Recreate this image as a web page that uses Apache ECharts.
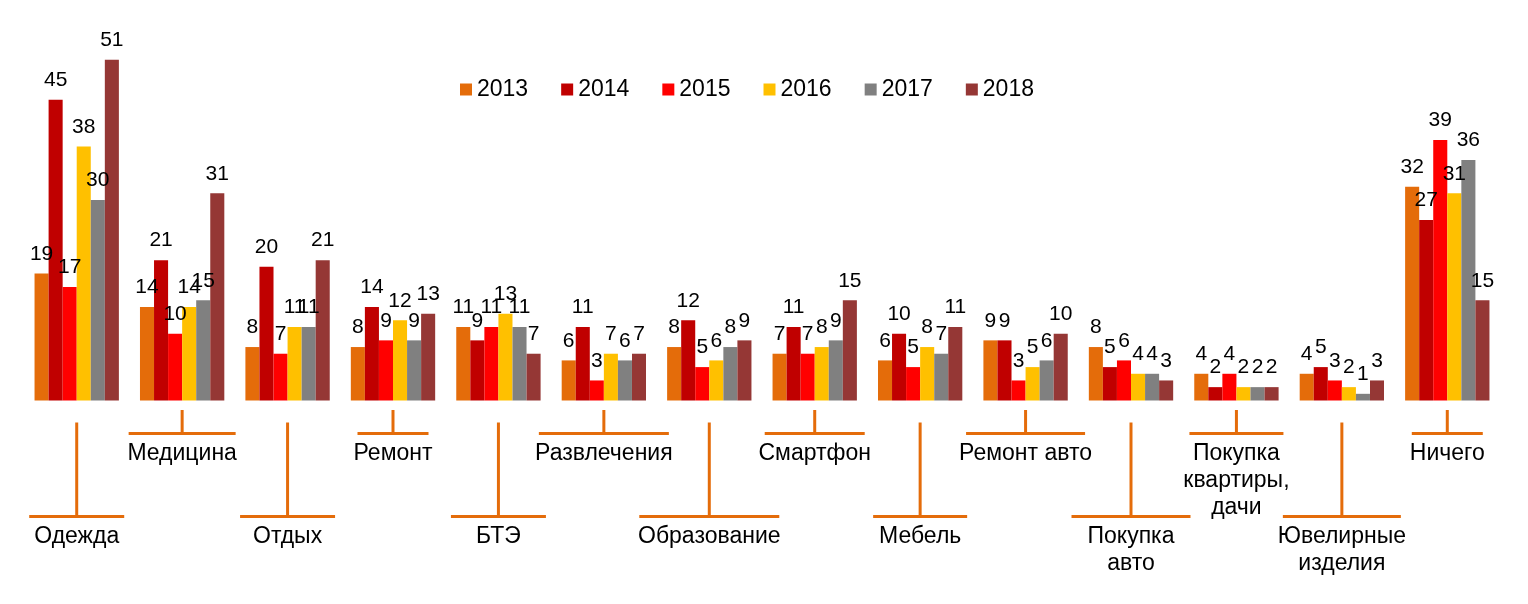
<!DOCTYPE html>
<html>
<head>
<meta charset="utf-8">
<script src="https://cdn.jsdelivr.net/npm/echarts@6/dist/echarts.min.js"></script>
<style>
  html, body { margin: 0; padding: 0; background: #fff; }
  #chart { width: 1528px; height: 604px; }
</style>
</head>
<body>
<div id="chart"></div>
<script>
// категории и значения по годам
const categories = [
  'Одежда', 'Медицина', 'Отдых', 'Ремонт', 'БТЭ', 'Развлечения', 'Образование',
  'Смартфон', 'Мебель', 'Ремонт авто', 'Покупка\nавто', 'Покупка\nквартиры,\nдачи',
  'Ювелирные\nизделия', 'Ничего'
];
const years = ['2013', '2014', '2015', '2016', '2017', '2018'];
const v2013 = [19, 14, 8, 8, 11, 6, 8, 7, 6, 9, 8, 4, 4, 32];
const v2014 = [45, 21, 20, 14, 9, 11, 12, 11, 10, 9, 5, 2, 5, 27];
const v2015 = [17, 10, 7, 9, 11, 3, 5, 7, 5, 3, 6, 4, 3, 39];
const v2016 = [38, 14, 11, 12, 13, 7, 6, 8, 8, 5, 4, 2, 2, 31];
const v2017 = [30, 15, 11, 9, 11, 6, 8, 9, 7, 6, 4, 2, 1, 36];
const v2018 = [51, 31, 21, 13, 7, 7, 9, 15, 11, 10, 3, 2, 3, 15];

const yearValues = [v2013, v2014, v2015, v2016, v2017, v2018];
const colors = ['#E46C0A', '#C00000', '#FF0000', '#FFC000', '#808080', '#953735'];
// ширина горизонтальной черты под подписью
const calloutWidth = [95, 107, 95, 71, 95, 130, 140, 100, 94, 119, 119, 94, 118, 71];
const lineColor = '#E46C0A';
const font = 'Arial, "Liberation Sans", sans-serif';

const chart = echarts.init(document.getElementById('chart'), null, { renderer: 'canvas' });

const barSeries = years.map((y, i) => ({
  name: y,
  type: 'bar',
  data: yearValues[i],
  barGap: '0%',
  barCategoryGap: '20%',
  itemStyle: { color: colors[i] },
  label: {
    show: true,
    position: 'top',
    distance: 9,
    color: '#000',
    fontSize: 21,
    fontFamily: font
  }
}));

// выноски с подписями категорий (чётные — ниже, нечётные — выше)
const calloutSeries = {
  type: 'custom',
  clip: false,
  silent: true,
  data: categories.map((c, i) => [i]),
  renderItem: function (params, api) {
    const idx = api.value(0);
    const p = api.coord([idx, 0]);
    const x = p[0], y0 = p[1];
    const low = idx % 2 === 0;
    const vTop = y0 + (low ? 22 : 9.5);
    const hY = y0 + (low ? 116 : 33);
    const textTop = y0 + (low ? 123 : 40);
    const w = calloutWidth[idx];
    const ls = { stroke: lineColor, lineWidth: 3 };
    return {
      type: 'group',
      children: [
        { type: 'line', shape: { x1: x, y1: vTop, x2: x, y2: hY }, style: ls },
        { type: 'line', shape: { x1: x - w / 2, y1: hY, x2: x + w / 2, y2: hY }, style: ls },
        {
          type: 'text',
          style: {
            text: categories[idx],
            x: x, y: textTop,
            align: 'center',
            verticalAlign: 'top',
            fill: '#000',
            fontSize: 23,
            fontFamily: font,
            lineHeight: 27
          }
        }
      ]
    };
  }
};

let option = {
  animation: false,
  legend: {
    data: years,
    left: 460,
    top: 78,
    padding: 0,
    itemWidth: 12,
    itemHeight: 12,
    itemGap: 33,
    icon: 'rect',
    textStyle: { color: '#000', fontSize: 23, fontFamily: font }
  },
  grid: {
    left: 24,
    right: 28,
    top: 33,
    bottom: 203.5
  },
  xAxis: {
    type: 'category',
    data: categories,
    axisLine: { show: false },
    axisTick: { show: false },
    axisLabel: { show: false }
  },
  yAxis: {
    type: 'value',
    min: 0,
    max: 55,
    show: false,
    splitLine: { show: false }
  },
  series: [...barSeries, calloutSeries]
};
chart.setOption(option);
</script>
</body>
</html>
